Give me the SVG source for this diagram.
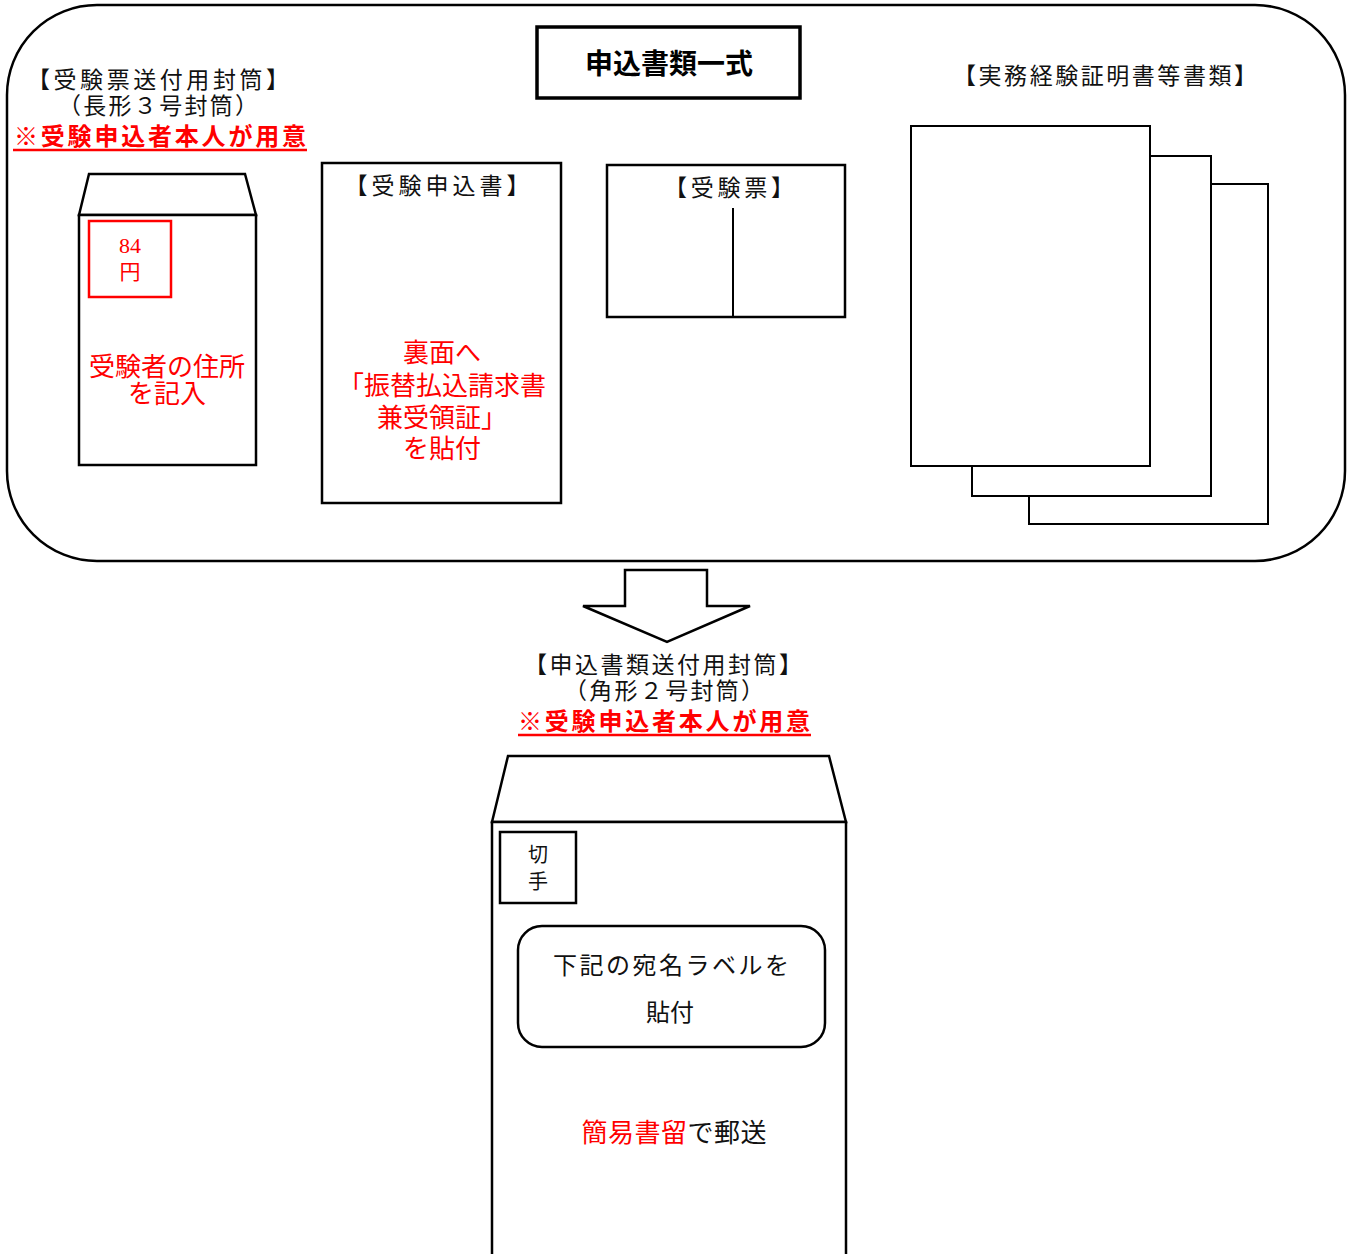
<svg xmlns="http://www.w3.org/2000/svg" width="1355" height="1254" viewBox="0 0 1355 1254">
<style>
.ln{fill:#fff;stroke:#000;stroke-width:2.5}
.thin{fill:#fff;stroke:#000;stroke-width:2}
.t{font-family:'Liberation Serif','Noto Sans CJK JP',serif;fill:#111;text-anchor:middle;dominant-baseline:central}
.r{fill:#ff0000}
.b{font-family:'Noto Sans CJK JP',sans-serif;font-weight:bold;text-anchor:middle;dominant-baseline:central}
</style>
<rect x="0" y="0" width="1355" height="1254" fill="#fff"/>
<g id="outer">
<rect class="ln" x="7" y="5" width="1338" height="556" rx="90" ry="90"/>
</g>
<g id="title">
<rect x="537" y="27" width="263" height="71" fill="#fff" stroke="#000" stroke-width="3.5"/>
<text class="b" x="669" y="62" font-size="28" fill="#000">申込書類一式</text>
</g>
<g id="small-envelope">
<text class="t" x="158" y="80" font-size="23" textLength="262">【受験票送付用封筒】</text>
<text class="t" x="158" y="106" font-size="23" textLength="200">（長形３号封筒）</text>
<text class="b r" x="160" y="134" font-size="24" textLength="292">※受験申込者本人が用意</text>
<line x1="13" y1="150" x2="307" y2="150" stroke="#ff0000" stroke-width="2.5"/>
<polygon class="ln" points="79,215 89,174 245,174 256,215"/>
<rect class="ln" x="79" y="215" width="177" height="250"/>
<rect x="89" y="221" width="82" height="76" fill="none" stroke="#ff0000" stroke-width="2.5"/>
<text class="t r" x="130" y="245" font-size="22">84</text>
<text class="t r" x="130" y="272" font-size="21">円</text>
<text class="t r" x="167" y="367" font-size="26">受験者の住所</text>
<text class="t r" x="167" y="394" font-size="26">を記入</text>
</g>
<g id="application-form">
<rect class="ln" x="322" y="163" width="239" height="340"/>
<text class="t" x="437" y="186" font-size="23" textLength="185">【受験申込書】</text>
<text class="t r" x="442" y="353" font-size="26">裏面へ</text>
<text class="t r" x="442" y="386" font-size="26">「振替払込請求書</text>
<text class="t r" x="442" y="418" font-size="26">兼受領証」</text>
<text class="t r" x="442" y="449" font-size="26">を貼付</text>
</g>
<g id="admission-ticket">
<rect class="ln" x="607" y="165" width="238" height="152"/>
<line x1="733" y1="208" x2="733" y2="317" stroke="#000" stroke-width="2"/>
<text class="t" x="729" y="188" font-size="23" textLength="130">【受験票】</text>
</g>
<g id="documents">
<text class="t" x="1105" y="76" font-size="23" textLength="304">【実務経験証明書等書類】</text>
<rect class="thin" x="1029" y="184" width="239" height="340"/>
<rect class="thin" x="972" y="156" width="239" height="340"/>
<rect class="thin" x="911" y="126" width="239" height="340"/>
</g>
<g id="connectors">
<polygon class="ln" points="625,570 707,570 707,606 750,606 667,642 583,606 625,606"/>
</g>
<g id="large-envelope">
<text class="t" x="663" y="665" font-size="23" textLength="278">【申込書類送付用封筒】</text>
<text class="t" x="664" y="691" font-size="23" textLength="200">（角形２号封筒）</text>
<text class="b r" x="664" y="719" font-size="24" textLength="292">※受験申込者本人が用意</text>
<line x1="518" y1="735" x2="811" y2="735" stroke="#ff0000" stroke-width="2.5"/>
<polygon class="ln" points="492,822 508,756 829,756 846,822"/>
<rect class="ln" x="492" y="822" width="354" height="440"/>
<rect class="ln" x="500" y="832" width="76" height="71"/>
<text class="t" x="538" y="855" font-size="20">切</text>
<text class="t" x="538" y="882" font-size="20">手</text>
<rect class="ln" x="518" y="926" width="307" height="121" rx="24" ry="24"/>
<text class="t" x="671" y="966" font-size="24" textLength="236">下記の宛名ラベルを</text>
<text class="t" x="670" y="1013" font-size="24">貼付</text>
<text class="t" x="674" y="1133" font-size="26" textLength="185"><tspan class="r">簡易書留</tspan>で郵送</text>
</g>
</svg>
